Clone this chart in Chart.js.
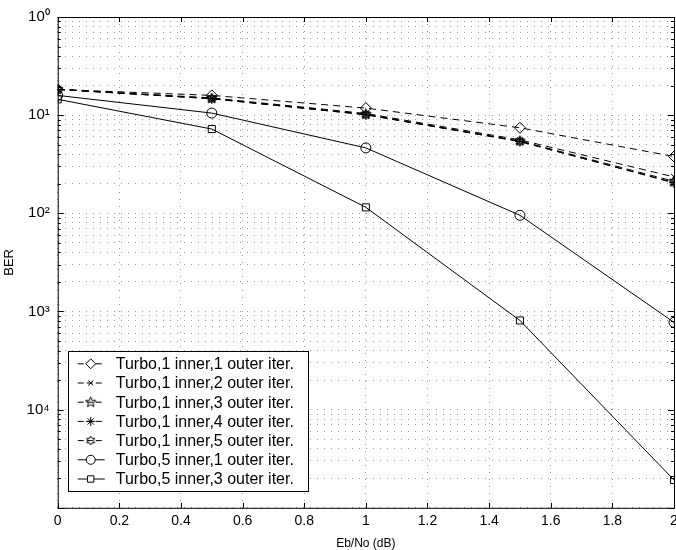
<!DOCTYPE html>
<html>
<head>
<meta charset="utf-8">
<script src="https://cdn.jsdelivr.net/npm/chart.js@4.4.0/dist/chart.umd.min.js"></script>
<style>
  html, body { margin: 0; padding: 0; background: #fff; overflow: hidden; }
  #wrap { position: relative; width: 690px; height: 550px; }
</style>
</head>
<body>
<div id="wrap"><canvas id="berChart" width="690" height="550"></canvas></div>
<script>
"use strict";

// Data

const ebNo = [0, 0.5, 1, 1.5, 2];

const seriesNames = [
  "Turbo,1 inner,1 outer iter.",
  "Turbo,1 inner,2 outer iter.",
  "Turbo,1 inner,3 outer iter.",
  "Turbo,1 inner,4 outer iter.",
  "Turbo,1 inner,5 outer iter.",
  "Turbo,5 inner,1 outer iter.",
  "Turbo,5 inner,3 outer iter.",
];

const ber1in1out = [0.183, 0.159, 0.118, 0.0744, 0.0379];
const ber1in2out = [0.183, 0.15, 0.104, 0.056, 0.0235];
const ber1in3out = [0.183, 0.148, 0.102, 0.0546, 0.0212];
const ber1in4out = [0.183, 0.147, 0.101, 0.054, 0.0206];
const ber1in5out = [0.183, 0.147, 0.101, 0.0538, 0.0204];
const ber5in1out = [0.159, 0.105, 0.0464, 0.00955, 0.000774];
const ber5in3out = [0.145, 0.0722, 0.0115, 0.00081, 0.0000192];

const xTicks = [0, 0.2, 0.4, 0.6, 0.8, 1, 1.2, 1.4, 1.6, 1.8, 2];
const yDecades = [1, 0.1, 0.01, 0.001, 0.0001, 0.00001];
// labels as printed on the scan (the minus signs did not survive)
const yDecadeLabels = ["10\u2070", "10\u00b9", "10\u00b2", "10\u00b3", "10\u2074", ""];

// minor ticks 2..9 inside every decade
const yTicks = [];
yDecades.slice(1).forEach((d) => {
  for (let m = 1; m <= 9; m++) yTicks.push(m * d);
});
yTicks.push(1);

// Marker images for the pentagram and hexagram

const makeStar = (points, size, inner) => {
  const c = document.createElement("canvas");
  c.width = c.height = size;
  const g = c.getContext("2d");
  const r = size / 2 - 1;
  g.beginPath();
  for (let i = 0; i < points * 2; i++) {
    const a = -Math.PI / 2 + (i * Math.PI) / points;
    const rr = i % 2 ? r * inner : r;
    g.lineTo(size / 2 + rr * Math.cos(a), size / 2 + rr * Math.sin(a));
  }
  g.closePath();
  g.strokeStyle = "#000";
  g.lineWidth = 1;
  g.stroke();
  return c;
};

const pentagram = makeStar(5, 13, 0.42);
const hexagram = makeStar(6, 11, 0.577);

const dashed = [7, 5];

const makeSet = (i, arr, style, radius, dash) => ({
  label: seriesNames[i],
  data: ebNo.map((x, k) => ({ x: x, y: arr[k] })),
  borderColor: "#000",
  borderWidth: 1,
  borderDash: dash,
  pointStyle: style,
  pointRadius: radius,
  pointBorderColor: "#000",
  pointBackgroundColor: "rgba(0,0,0,0)",
  pointBorderWidth: 1,
  tension: 0,
});

const datasets = [
  makeSet(0, ber1in1out, "rectRot", 5.5, dashed),
  makeSet(1, ber1in2out, "crossRot", 4, dashed),
  makeSet(2, ber1in3out, pentagram, 6, dashed),
  makeSet(3, ber1in4out, "star", 5, dashed),
  makeSet(4, ber1in5out, hexagram, 5, dashed),
  makeSet(5, ber5in1out, "circle", 5, []),
  makeSet(6, ber5in3out, "rect", 5, []),
];

const isDecade = (v) => {
  const e = Math.log10(v);
  return Math.abs(e - Math.round(e)) < 1e-6;
};

// Inward tick marks, like the original plot

const innerTicks = {
  id: "innerTicks",
  afterDraw(chart) {
    const { ctx, chartArea: a, scales } = chart;
    ctx.save();
    ctx.strokeStyle = "#000";
    ctx.lineWidth = 1;
    ctx.beginPath();
    yTicks.forEach((v) => {
      const y = Math.round(scales.y.getPixelForValue(v)) + 0.5;
      const len = isDecade(v) ? 6 : 3;
      ctx.moveTo(a.left, y);
      ctx.lineTo(a.left + len, y);
      ctx.moveTo(a.right, y);
      ctx.lineTo(a.right - len, y);
    });
    xTicks.forEach((v) => {
      const x = Math.round(scales.x.getPixelForValue(v)) + 0.5;
      ctx.moveTo(x, a.bottom);
      ctx.lineTo(x, a.bottom - 5);
      ctx.moveTo(x, a.top);
      ctx.lineTo(x, a.top + 5);
    });
    ctx.stroke();
    ctx.strokeRect(a.left + 0.5, a.top + 0.5, a.right - a.left, a.bottom - a.top);
    ctx.restore();
  },
};

// Boxed legend in the lower left corner of the plot

const boxLegend = {
  id: "boxLegend",
  afterDraw(chart) {
    const { ctx, chartArea: a } = chart;
    const rowH = 19.2;
    const left = a.left + 10;
    const width = 240;
    const height = 140;
    const top = a.bottom - 17 - height;
    ctx.save();
    ctx.fillStyle = "#fff";
    ctx.fillRect(left, top, width, height);
    ctx.strokeStyle = "#000";
    ctx.lineWidth = 1;
    ctx.strokeRect(Math.round(left) + 0.5, Math.round(top) + 0.5, width, height);
    ctx.font = "16px 'Liberation Sans', Arial, sans-serif";
    ctx.textBaseline = "middle";
    chart.data.datasets.forEach((ds, i) => {
      const y = top + 13 + i * rowH;
      ctx.strokeStyle = "#000";
      ctx.setLineDash(ds.borderDash.length ? [6, 3] : []);
      ctx.beginPath();
      ctx.moveTo(left + 10, y);
      ctx.lineTo(left + 37, y);
      ctx.stroke();
      ctx.setLineDash([]);
      ctx.fillStyle = "#fff";
      Chart.helpers.drawPoint(
        ctx,
        { pointStyle: ds.pointStyle, radius: ds.pointRadius * 0.9, rotation: 0, borderWidth: 1 },
        left + 23,
        y
      );
      ctx.fillStyle = "#000";
      ctx.fillText(ds.label, left + 48, y + 1);
    });
    ctx.restore();
  },
};

Chart.defaults.font.family = "'Liberation Sans', Arial, Helvetica, sans-serif";
Chart.defaults.color = "#000";

const ctx = document.getElementById("berChart").getContext("2d");
const berChart = new Chart(ctx, {
  type: "line",
  data: { datasets: datasets },
  options: {
    responsive: false,
    animation: false,
    layout: { padding: { top: 4, right: 16, left: 2, bottom: -1 } },
    plugins: {
      legend: { display: false },
      tooltip: { enabled: false },
    },
    scales: {
      x: {
        type: "linear",
        min: 0,
        max: 2,
        afterBuildTicks: (scale) => {
          scale.ticks = xTicks.map((v) => ({ value: v }));
        },
        ticks: {
          autoSkip: false,
          maxRotation: 0,
          padding: 5,
          font: { size: 14 },
          callback: (v) => String(Math.round(v * 10) / 10),
        },
        grid: { color: "#999", lineWidth: 1, drawTicks: false },
        border: { display: false, dash: [1, 6] },
        title: {
          display: true,
          text: "Eb/No (dB)",
          font: { size: 12 },
          padding: { top: 2, bottom: 0 },
        },
      },
      y: {
        type: "logarithmic",
        min: 0.00001,
        max: 1,
        afterBuildTicks: (scale) => {
          scale.ticks = yTicks.map((v) => ({ value: v }));
        },
        ticks: {
          autoSkip: false,
          padding: 8,
          font: { size: 15 },
          callback: (v) => {
            if (!isDecade(v)) return "";
            const i = yDecades.findIndex((d) => Math.abs(Math.log10(d) - Math.log10(v)) < 1e-6);
            return i >= 0 ? yDecadeLabels[i] : "";
          },
        },
        grid: { color: "#999", lineWidth: 1, drawTicks: false },
        border: { display: false, dash: [1, 6] },
        title: {
          display: true,
          text: "BER",
          font: { size: 13 },
          padding: { top: 0, bottom: 1 },
        },
      },
    },
  },
  plugins: [innerTicks, boxLegend],
});
</script>
</body>
</html>
